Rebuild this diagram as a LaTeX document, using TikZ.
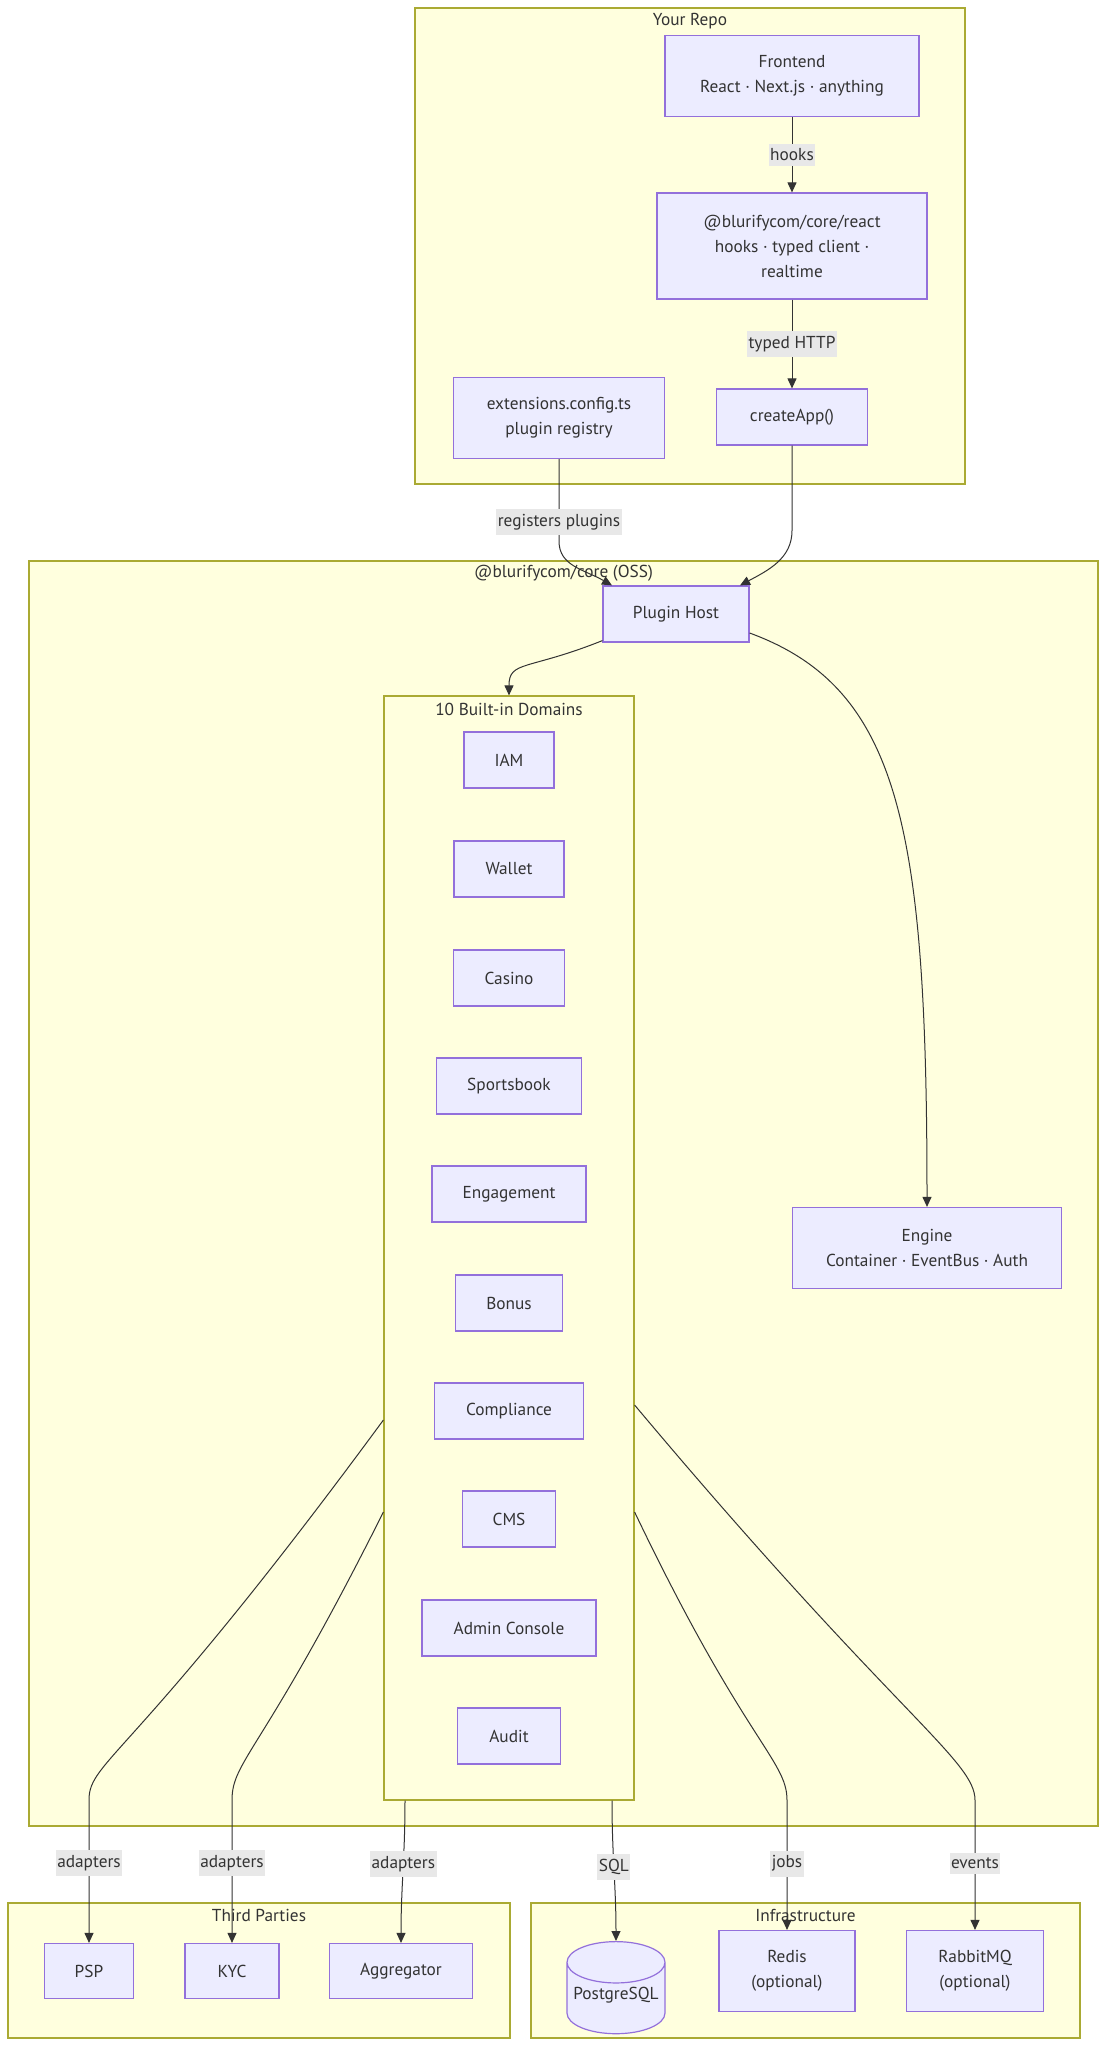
\documentclass[tikz,border=0pt]{standalone}
\usepackage{fontspec}
\setmainfont{PT Sans}
\usetikzlibrary{positioning,shapes.geometric,arrows.meta}
\definecolor{groupFill}{HTML}{FFFFDE}
\definecolor{groupLine}{HTML}{AAAA33}
\definecolor{boxFill}{HTML}{ECECFF}
\definecolor{boxLine}{HTML}{9370DB}
\definecolor{inkGray}{HTML}{333333}
\definecolor{tagFill}{HTML}{E8E8E8}
\tikzset {
    style A/.style={
        fill=boxFill,
        draw=boxLine,
        line width=1.2pt,
        rectangle, % Set the shape as a rectangle
        inner xsep=4pt,
        minimum height=56pt,
        text=inkGray,
        align=center,
    },
    style B/.style={
        fill=groupFill,
        draw=groupLine,
        line width=1.2pt,
        rectangle, % Set the shape as a rectangle
        inner sep=0pt,
    },
    style C/.style={
        fill=tagFill,
        inner xsep=1.5pt,
        inner ysep=5pt,
        text=inkGray,
    },
    style D/.style={
        fill=boxFill,
        draw=boxLine,
        line width=1.2pt,
        cylinder, % Set the shape as a cylinder
        shape border rotate=90,
        aspect=0.45,
        text=inkGray,
        align=center,
    },
    style E/.style={
        text=inkGray,
        inner sep=0pt,
    },
}
\begin{document}
\begin{tikzpicture}
        [x=1pt, y=-1pt, font=\fontsize{17.3}{25}\selectfont, >={Triangle[length=10pt, width=9pt]},
        link/.style={draw=inkGray, line width=1pt}]

        \useasboundingbox[fill=white] (0,0) rectangle (1107,2048);

        % groups
        \node[style B, minimum width=550pt, minimum height=476pt] at (690,246) (repoBox) {};
        \node[style E] at (690,21) (repoTitle) {Your Repo};
        \node[style B, minimum width=1069pt, minimum height=1265pt] at (563.5,1193.5) (coreBox) {};
        \node[style E] at (563.5,573) (coreTitle) {@blurifycom/core (OSS)};
        \node[style B, minimum width=250pt, minimum height=1104pt] at (509,1248) (domainsBox) {};
        \node[style E] at (509,709) (domainsTitle) {10 Built-in Domains};
        \node[style B, minimum width=502pt, minimum height=135pt] at (259,1970.5) (thirdBox) {};
        \node[style E] at (259,1915) (thirdTitle) {Third Parties};
        \node[style B, minimum width=549pt, minimum height=135pt] at (805.5,1970.5) (infraBox) {};
        \node[style E] at (805.5,1915) (infraTitle) {Infrastructure};

        % your repo
        \node[style A, minimum width=254pt, minimum height=81pt] at (792,76) (frontend) {Frontend\\React · Next.js · anything};
        \node[style A, minimum width=270pt, minimum height=106pt] at (792,246) (reactPkg) {@blurifycom/core/react\\hooks · typed client ·\\realtime};
        \node[style A, minimum width=211pt, minimum height=81pt] at (559,418) (extConfig) {extensions.config.ts\\plugin registry};
        \node[style A, minimum width=151pt] at (792,417) (createApp) {createApp()};

        % core
        \node[style A, minimum width=146pt] at (676,614) (pluginHost) {Plugin Host};
        \node[style A, minimum width=269pt, minimum height=81pt] at (927,1248) (engine) {Engine\\Container · EventBus · Auth};
        \node[style A, minimum width=90pt] at (509,760) (iam) {IAM};
        \node[style A, minimum width=110pt] at (509,869) (wallet) {Wallet};
        \node[style A, minimum width=111pt] at (509,978) (casino) {Casino};
        \node[style A, minimum width=145pt] at (509,1086) (sportsbook) {Sportsbook};
        \node[style A, minimum width=154pt] at (509,1194) (engagement) {Engagement};
        \node[style A, minimum width=107pt] at (509,1303) (bonus) {Bonus};
        \node[style A, minimum width=149pt] at (509,1411) (compliance) {Compliance};
        \node[style A, minimum width=93pt] at (509,1519) (cms) {CMS};
        \node[style A, minimum width=174pt] at (509,1628) (adminConsole) {Admin Console};
        \node[style A, minimum width=103pt] at (509,1736) (audit) {Audit};

        % outside
        \node[style A, minimum width=89pt, minimum height=55pt] at (89,1971) (psp) {PSP};
        \node[style A, minimum width=94pt, minimum height=55pt] at (232,1971) (kyc) {KYC};
        \node[style A, minimum width=143pt, minimum height=55pt] at (401,1971) (aggregator) {Aggregator};
        \node[style D, minimum width=98pt, minimum height=74pt, text depth=18pt, anchor=north] at (616,1941) (postgres) {PostgreSQL};
        \node[style A, minimum width=136pt, minimum height=81pt] at (787,1971) (redis) {Redis\\(optional)};
        \node[style A, minimum width=137pt, minimum height=81pt] at (975,1971) (rabbit) {RabbitMQ\\(optional)};

        \draw[link, ->] (frontend) -- node[style C] {hooks} (reactPkg);
        \draw[link, ->] (reactPkg) -- node[style C] {typed HTTP} (createApp);
        \draw[link, ->] (extConfig.south) -- node[style C, pos=0.77] {registers plugins} ++(0,82)
            .. controls +(0,25) and +(-28,-16) .. ([xshift=-64pt]pluginHost.north);
        \draw[link, ->] (createApp.south) -- ++(0,85)
            .. controls +(0,28) and +(28,-15) .. ([xshift=64pt]pluginHost.north);
        \draw[link, ->] ([yshift=2pt]pluginHost.south west) .. controls +(-75,30) and +(0,-35) .. (domainsBox.north);
        \draw[link, ->] ([yshift=-19pt]pluginHost.east) .. controls +(150,55) and +(0,-380) .. (engine.north);

        \draw[link, ->] ([yshift=-172pt]domainsBox.west) .. controls +(-250,340) and +(0,-40) .. (psp.north |- 0,1800)
            -- node[style C, pos=0.44] {adapters} (psp);
        \draw[link, ->] ([yshift=-264pt]domainsBox.west) .. controls +(-120,240) and +(0,-40) .. (kyc.north |- 0,1800)
            -- node[style C, pos=0.44] {adapters} (kyc);
        \draw[link, ->] ([xshift=-104pt]domainsBox.south) to[out=-90, in=90] node[style C, pos=0.44] {adapters} (aggregator.north);
        \draw[link, ->] ([xshift=103pt]domainsBox.south) to[out=-90, in=90] node[style C, pos=0.47] {SQL} (postgres.north);
        \draw[link, ->] ([yshift=-264pt]domainsBox.east) .. controls +(110,230) and +(0,-40) .. (redis.north |- 0,1800)
            -- node[style C, pos=0.49] {jobs} (redis);
        \draw[link, ->] ([yshift=-157pt]domainsBox.east) .. controls +(260,310) and +(0,-40) .. (rabbit.north |- 0,1800)
            -- node[style C, pos=0.49] {events} (rabbit);
\end{tikzpicture}
\end{document}
